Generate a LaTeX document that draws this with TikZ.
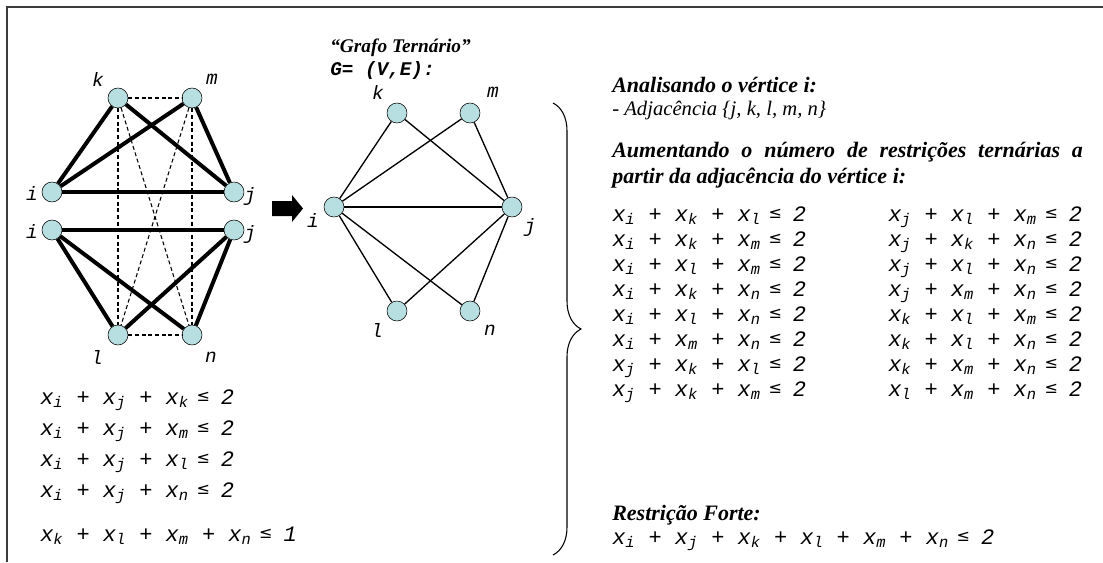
\documentclass[tikz,border=0pt]{standalone}
\usepackage{fontspec}
\setmainfont{Liberation Serif}
\newfontfamily\courfont{Liberation Mono}
\newfontfamily\lesymfont{DejaVu Sans}
\usepackage{tikz}
\usetikzlibrary{decorations.pathreplacing}

\definecolor{vfill}{RGB}{183,222,224}
\definecolor{frame}{RGB}{60,60,60}

\newcommand{\xs}[1]{x\textsubscript{#1}}
\newcommand{\psign}{\hspace{0.6em}+\hspace{0.6em}}
\newcommand{\lsign}{\hspace{0.35em}\raisebox{0.25ex}{\lesymfont\fontsize{12}{12}\selectfont ≤}\hspace{0.5em}}

\begin{document}
\begin{tikzpicture}[x=0.75pt, y=-0.75pt,
    vtx/.style={circle, draw, fill=vfill, minimum size=15pt, inner sep=0pt},
    lbl/.style={font=\courfont\itshape\fontsize{14.5}{14.5}\selectfont, inner sep=0pt},
    heavy/.style={line width=3pt},
    thinedge/.style={line width=1pt},
    dashedge/.style={line width=0.8pt, dash pattern=on 3pt off 2pt},
    eqn/.style={font=\courfont\itshape\fontsize{16.5}{16.5}\selectfont, anchor=base west, inner sep=0pt},
    head/.style={font=\bfseries\itshape\fontsize{16.5}{16.5}\selectfont, anchor=base west, inner sep=0pt},
    subt/.style={font=\itshape\fontsize{15.5}{15.5}\selectfont, anchor=base west, inner sep=0pt}]

    \useasboundingbox (0,0) rectangle (1103,562);

    % frame
    \draw[frame, line width=1.5pt] (7,562) -- (7,7) -- (1103,7);

    % left graph: vertices
    \node[vtx] (kA) at (118,98) {};
    \node[vtx] (mA) at (192,98) {};
    \node[vtx] (iA) at (52,192) {};
    \node[vtx] (jA) at (234,192) {};
    \node[vtx] (iB) at (52,230) {};
    \node[vtx] (jB) at (234,230) {};
    \node[vtx] (lA) at (118,335) {};
    \node[vtx] (nA) at (192,335) {};

    % left graph: labels
    \node[lbl] (kAl) at (98,79) {k};
    \node[lbl] (mAl) at (212,79) {m};
    \node[lbl] (iAl) at (32,193) {i};
    \node[lbl] (jAl) at (250,196) {j};
    \node[lbl] (iBl) at (32,231) {i};
    \node[lbl] (jBl) at (250,234) {j};
    \node[lbl] (lAl) at (97,357) {l};
    \node[lbl] (nAl) at (211,357) {n};

    % left graph: dashed edges
    \draw[dashedge] (kA) -- (mA);
    \draw[dashedge] (lA) -- (nA);
    \draw[dashedge] (kA) -- (lA);
    \draw[dashedge] (mA) -- (nA);
    \draw[dashedge] (kA) -- (nA);
    \draw[dashedge] (mA) -- (lA);

    % left graph: heavy edges
    \draw[heavy] (iA) -- (kA);
    \draw[heavy] (iA) -- (mA);
    \draw[heavy] (jA) -- (kA);
    \draw[heavy] (jA) -- (mA);
    \draw[heavy] (iA) -- (jA);
    \draw[heavy] (iB) -- (jB);
    \draw[heavy] (iB) -- (lA);
    \draw[heavy] (iB) -- (nA);
    \draw[heavy] (jB) -- (lA);
    \draw[heavy] (jB) -- (nA);

    % block arrow
    \fill (272,201) -- (292,201) -- (292,195) -- (303,208.5) -- (292,222) -- (292,216) -- (272,216) -- cycle;

    % title of the ternary graph
    \node[head, font=\bfseries\itshape\fontsize{14.5}{14.5}\selectfont] (title) at (330,52) {“Grafo Ternário”};
    \node[eqn, font=\courfont\bfseries\itshape\fontsize{14.5}{14.5}\selectfont] (gve) at (330,75) {G= (V,E):};

    % ternary graph: vertices
    \node[vtx] (kG) at (397,113) {};
    \node[vtx] (mG) at (470,113) {};
    \node[vtx] (iG) at (334,207) {};
    \node[vtx] (jG) at (512,207) {};
    \node[vtx] (lG) at (397,311) {};
    \node[vtx] (nG) at (470,311) {};

    % ternary graph: labels
    \node[lbl] (kGl) at (378,92) {k};
    \node[lbl] (mGl) at (493,92) {m};
    \node[lbl] (iGl) at (313,220) {i};
    \node[lbl] (jGl) at (530,227) {j};
    \node[lbl] (lGl) at (377,330) {l};
    \node[lbl] (nGl) at (490,330) {n};

    % ternary graph: edges
    \draw[thinedge] (iG) -- (kG);
    \draw[thinedge] (iG) -- (mG);
    \draw[thinedge] (iG) -- (jG);
    \draw[thinedge] (iG) -- (lG);
    \draw[thinedge] (iG) -- (nG);
    \draw[thinedge] (jG) -- (kG);
    \draw[thinedge] (jG) -- (mG);
    \draw[thinedge] (jG) -- (lG);
    \draw[thinedge] (jG) -- (nG);

    % brace
    \coordinate (btop) at (553,103);
    \coordinate (bbot) at (553,555);
    \draw[decorate, decoration={brace, amplitude=21pt}, line width=0.8pt] (btop) -- (bbot);

    % analysis of vertex i
    \node[head] (ana) at (612,92) {Analisando o vértice i:};
    \node[subt] (adj) at (612,115) {- Adjacência \{j, k, l, m, n\}};
    \node[head] (aum1) at (612,157) {\makebox[353pt][s]{Aumentando o número de restrições ternárias a}};
    \node[head] (aum2) at (612,183) {partir da adjacência do vértice i:};

    % ternary restrictions, first column
    \node[eqn] (ea1) at (612,221) {\xs{i}\psign\xs{k}\psign\xs{l}\lsign 2};
    \node[eqn] (ea2) at (612,246) {\xs{i}\psign\xs{k}\psign\xs{m}\lsign 2};
    \node[eqn] (ea3) at (612,271) {\xs{i}\psign\xs{l}\psign\xs{m}\lsign 2};
    \node[eqn] (ea4) at (612,296) {\xs{i}\psign\xs{k}\psign\xs{n}\lsign 2};
    \node[eqn] (ea5) at (612,321) {\xs{i}\psign\xs{l}\psign\xs{n}\lsign 2};
    \node[eqn] (ea6) at (612,346) {\xs{i}\psign\xs{m}\psign\xs{n}\lsign 2};
    \node[eqn] (ea7) at (612,371) {\xs{j}\psign\xs{k}\psign\xs{l}\lsign 2};
    \node[eqn] (ea8) at (612,396) {\xs{j}\psign\xs{k}\psign\xs{m}\lsign 2};

    % ternary restrictions, second column
    \node[eqn] (eb1) at (888,221) {\xs{j}\psign\xs{l}\psign\xs{m}\lsign 2};
    \node[eqn] (eb2) at (888,246) {\xs{j}\psign\xs{k}\psign\xs{n}\lsign 2};
    \node[eqn] (eb3) at (888,271) {\xs{j}\psign\xs{l}\psign\xs{n}\lsign 2};
    \node[eqn] (eb4) at (888,296) {\xs{j}\psign\xs{m}\psign\xs{n}\lsign 2};
    \node[eqn] (eb5) at (888,321) {\xs{k}\psign\xs{l}\psign\xs{m}\lsign 2};
    \node[eqn] (eb6) at (888,346) {\xs{k}\psign\xs{l}\psign\xs{n}\lsign 2};
    \node[eqn] (eb7) at (888,371) {\xs{k}\psign\xs{m}\psign\xs{n}\lsign 2};
    \node[eqn] (eb8) at (888,396) {\xs{l}\psign\xs{m}\psign\xs{n}\lsign 2};

    % strong restriction
    \node[head] (forte) at (612,520) {Restrição Forte:};
    \node[eqn] (ef) at (612,544) {\xs{i}\psign\xs{j}\psign\xs{k}\psign\xs{l}\psign\xs{m}\psign\xs{n}\lsign 2};

    % restrictions of the left graph
    \node[eqn] (ec1) at (40,404) {\xs{i}\psign\xs{j}\psign\xs{k}\lsign 2};
    \node[eqn] (ec2) at (40,435) {\xs{i}\psign\xs{j}\psign\xs{m}\lsign 2};
    \node[eqn] (ec3) at (40,466) {\xs{i}\psign\xs{j}\psign\xs{l}\lsign 2};
    \node[eqn] (ec4) at (40,497) {\xs{i}\psign\xs{j}\psign\xs{n}\lsign 2};
    \node[eqn] (ec5) at (40,541) {\xs{k}\psign\xs{l}\psign\xs{m}\psign\xs{n}\lsign 1};

\end{tikzpicture}
\end{document}
